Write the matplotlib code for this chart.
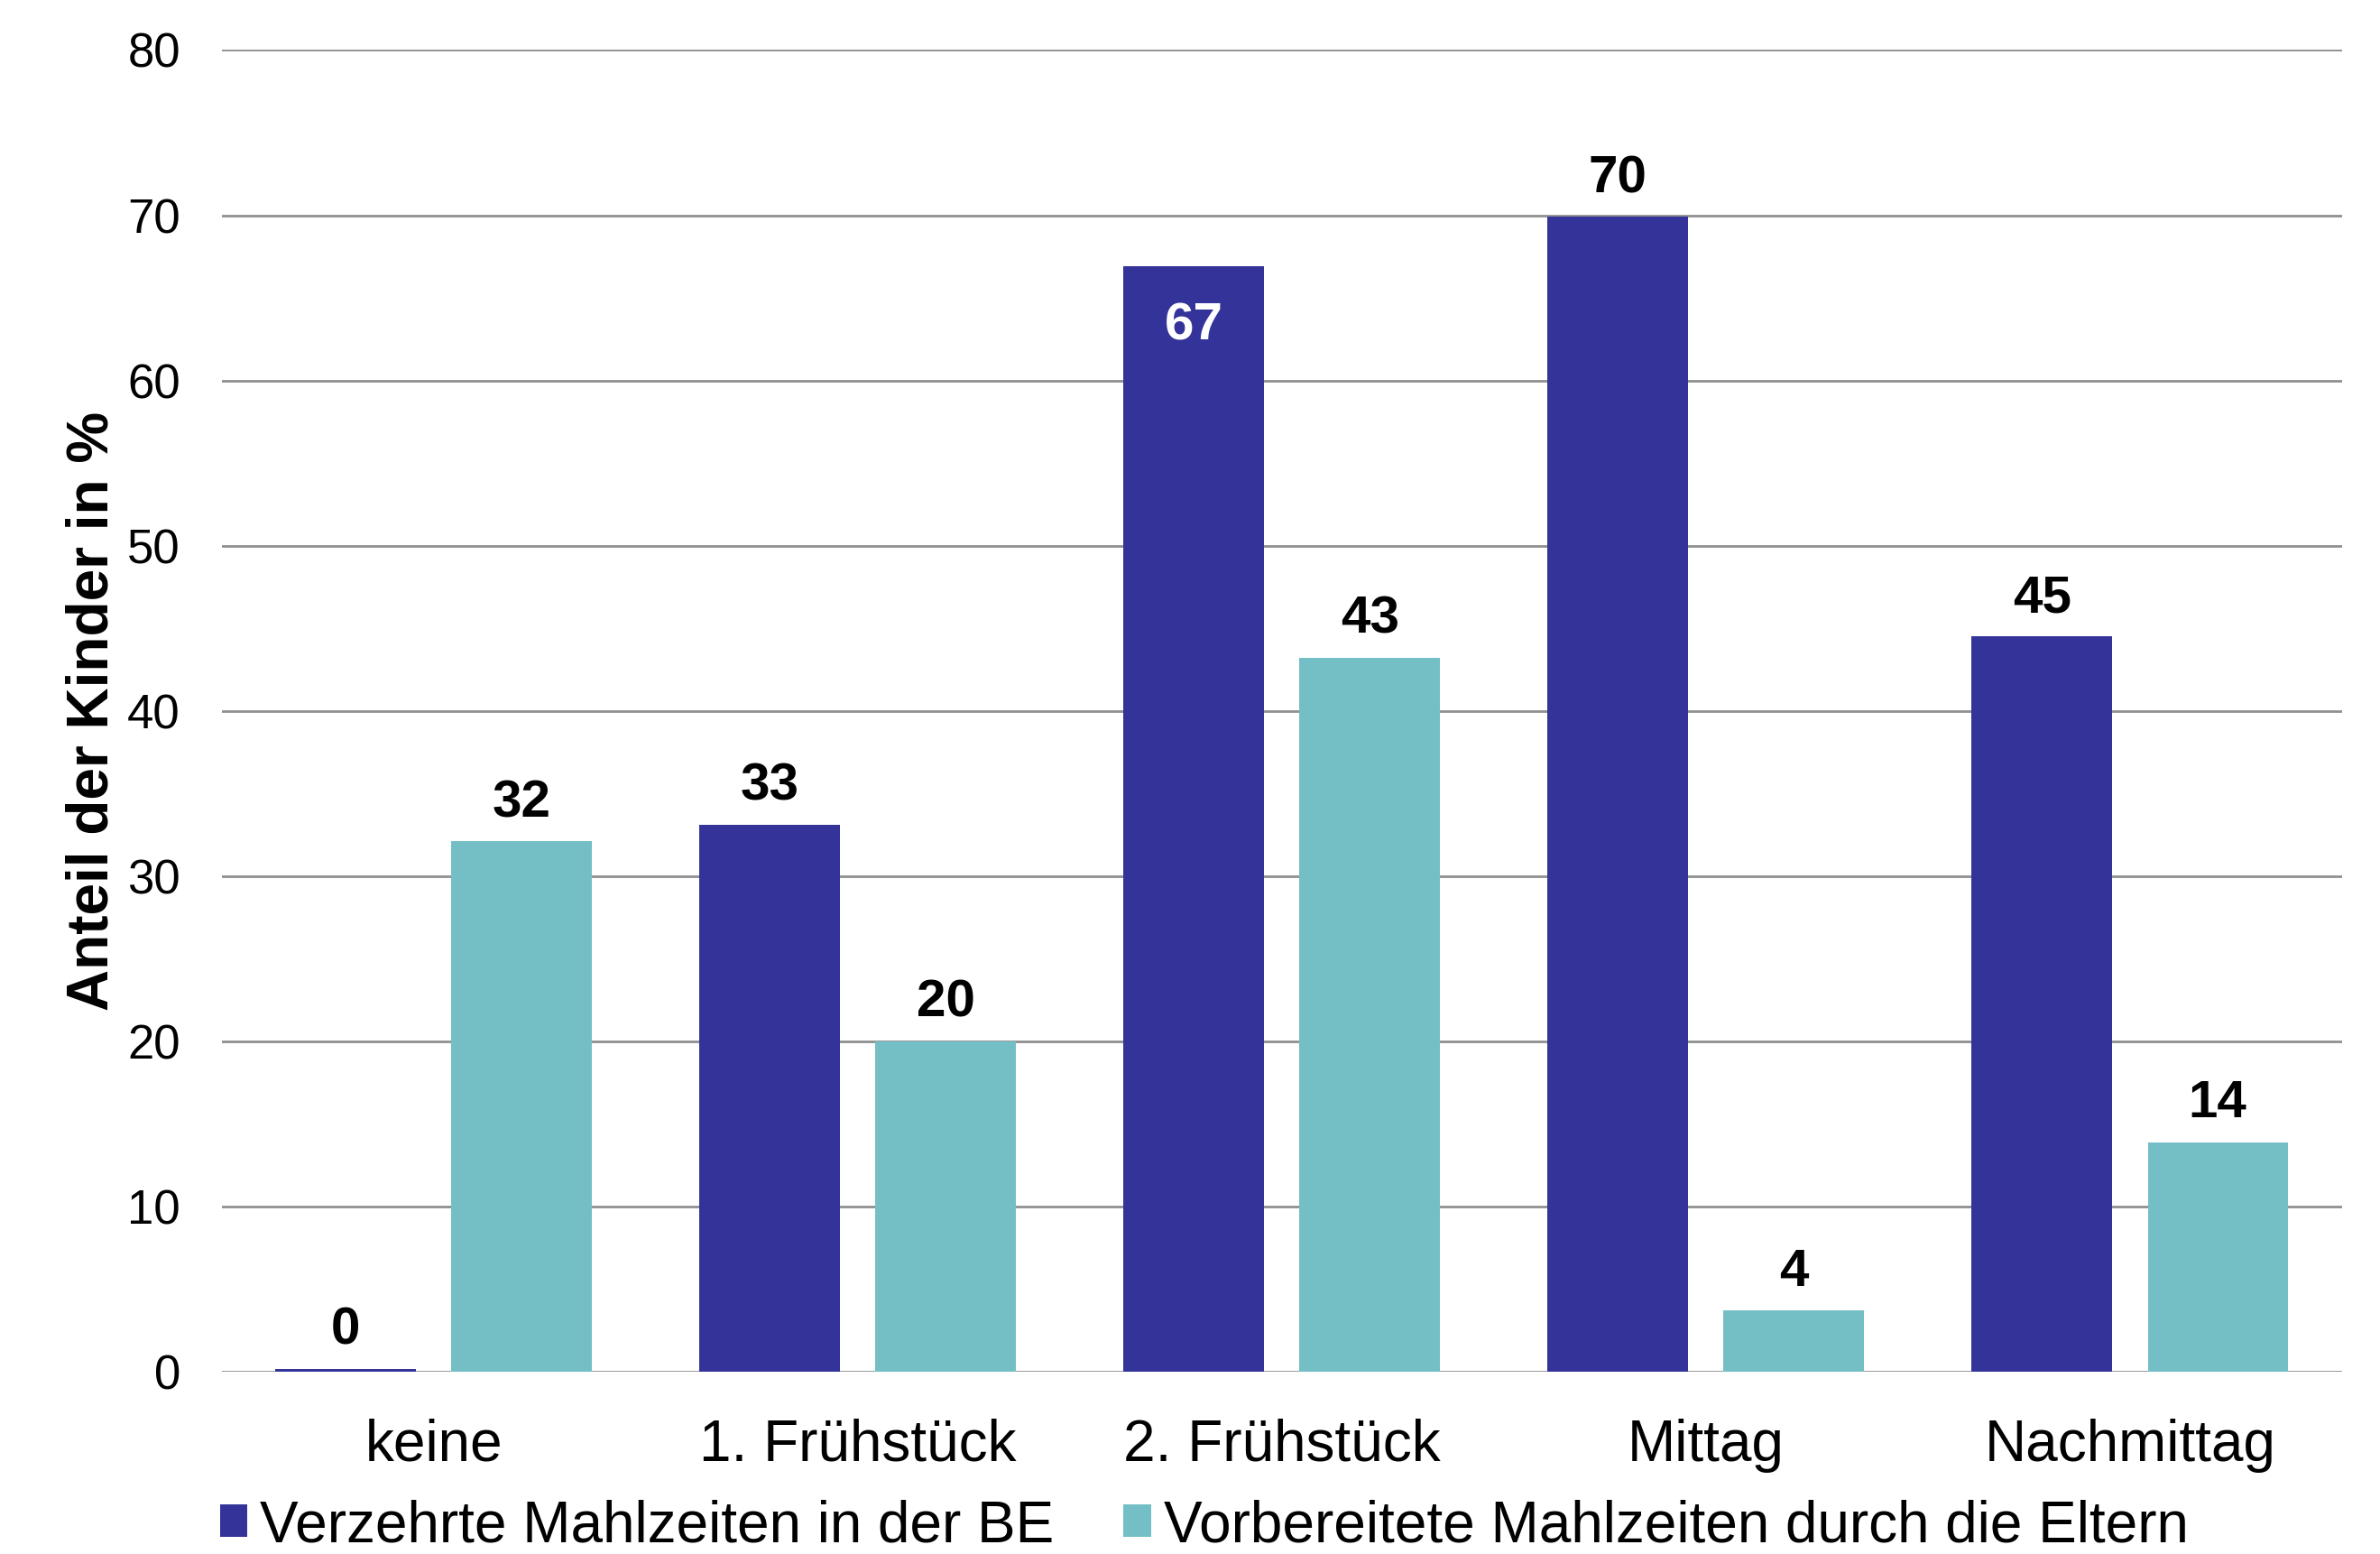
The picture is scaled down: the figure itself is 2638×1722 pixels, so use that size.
import matplotlib
matplotlib.use("Agg")
import matplotlib.pyplot as plt
import numpy as np
from matplotlib.patches import Patch

categories = ["keine", "1. Frühstück", "2. Frühstück", "Mittag", "Nachmittag"]
series_names = ["Verzehrte Mahlzeiten in der BE", "Vorbereitete Mahlzeiten durch die Eltern"]
verzehrt = [0.2, 33.1, 66.9, 69.9, 44.5]
vorbereitet = [32.1, 20.0, 43.2, 3.7, 13.9]
verzehrt_labels = ["0", "33", "67", "70", "45"]
vorbereitet_labels = ["32", "20", "43", "4", "14"]
yticks = [0, 10, 20, 30, 40, 50, 60, 70, 80]

blue = "#343399"
teal = "#74BFC5"
grid_col = "#8f8f8f"

plt.rcParams['font.family'] = ['Liberation Sans', 'DejaVu Sans']

fig = plt.figure(figsize=(26.38, 17.22), dpi=100)
ax = fig.add_axes([0.0931, 0.1172, 0.984 - 0.0931, 0.9678 - 0.1172])

x = np.arange(len(categories))
w = 0.331
off = 0.2075
b1 = ax.bar(x - off, verzehrt, w, color=blue, zorder=3)
b2 = ax.bar(x + off, vorbereitet, w, color=teal, zorder=3)

ax.set_xlim(-0.5, len(categories) - 0.5)
ax.set_ylim(0, 80)
ax.set_yticks(yticks)
ax.set_yticklabels([str(t) for t in yticks], fontsize=38)
ax.set_xticks(x)
ax.set_xticklabels(categories, fontsize=46)
ax.tick_params(axis='y', length=0, pad=33)
ax.tick_params(axis='x', length=0, pad=37)
for s in ax.spines.values():
    s.set_visible(False)
ax.yaxis.grid(True, color=grid_col, linewidth=2.0, zorder=0)
ax.set_axisbelow(True)

inside = [False, False, True, False, False]
for rect, lab, ins in zip(b1, verzehrt_labels, inside):
    cx = rect.get_x() + rect.get_width() / 2
    h = rect.get_height()
    if ins:
        ax.annotate(lab, (cx, h), xytext=(0, -28), textcoords='offset points',
                    ha='center', va='top', fontsize=42, fontweight='bold', color='white', zorder=5)
    else:
        ax.annotate(lab, (cx, h), xytext=(0, 11), textcoords='offset points',
                    ha='center', va='bottom', fontsize=42, fontweight='bold', color='black', zorder=5)
for rect, lab in zip(b2, vorbereitet_labels):
    cx = rect.get_x() + rect.get_width() / 2
    h = rect.get_height()
    ax.annotate(lab, (cx, h), xytext=(0, 11), textcoords='offset points',
                ha='center', va='bottom', fontsize=42, fontweight='bold', color='black', zorder=5)

ax.set_ylabel("Anteil der Kinder in %", fontsize=46, fontweight='bold', labelpad=6)

handles = [Patch(facecolor=blue), Patch(facecolor=teal)]
fig.legend(handles, series_names, loc='center', bbox_to_anchor=(0.506, 0.018), ncol=2,
           frameon=False, fontsize=46, handlelength=0.48, handleheight=0.48,
           handletextpad=0.22, columnspacing=1.2, borderpad=0, borderaxespad=0)

fig.savefig("out.png", dpi=100)
